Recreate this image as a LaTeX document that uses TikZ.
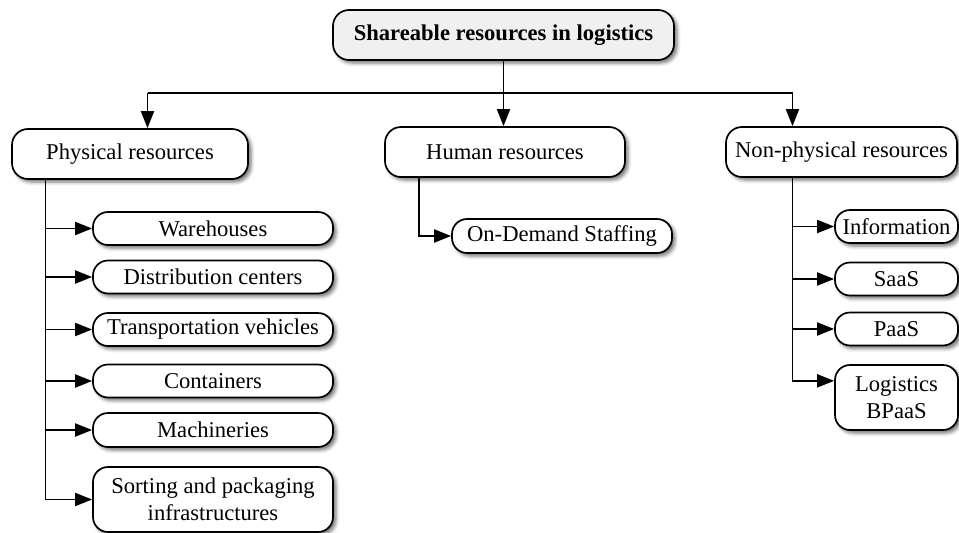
\documentclass[tikz,border=0pt]{standalone}
\usepackage{fontspec}
\setmainfont{Liberation Serif}
\usetikzlibrary{arrows.meta,shadows.blur,calc}
\begin{document}
\begin{tikzpicture}[x=1pt,y=-1pt,
  box/.style={draw=black, line width=1.7pt, fill=white, rounded corners=16pt,
    align=center, inner sep=0pt, font=\fontsize{22.6}{26.5}\selectfont,
    blur shadow={shadow xshift=3pt, shadow yshift=-3pt,
      shadow blur radius=3.5pt, shadow opacity=55}},
  rootbox/.style={box, fill=black!6, minimum height=50pt,
    font=\fontsize{22.6}{26.5}\selectfont\bfseries},
  headbox/.style={box, minimum height=50pt},
  leafbox/.style={box, rounded corners=15pt, minimum height=33pt},
  link/.style={line width=1.9pt, draw=black},
  arr/.style={link, -{Triangle[length=17pt,width=13pt]}}]
\useasboundingbox (0,0) rectangle (959,533);

% top level
\node[rootbox, minimum width=341pt] (root) at (503.5,35) {Shareable resources in logistics};

% categories
\node[headbox, minimum width=236pt] (phys)    at (130,154)   {Physical resources};
\node[headbox, minimum width=240pt] (human)   at (505,152)   {Human resources};
\node[headbox, minimum width=231pt] (nonphys) at (841.5,152) {Non-physical resources};

% physical resources
\node[leafbox, minimum width=240pt] (wh) at (213,228.5) {Warehouses};
\node[leafbox, minimum width=240pt] (dc) at (213,277)   {Distribution centers};
\node[leafbox, minimum width=240pt] (tv) at (213,329.5) {Transportation vehicles};
\node[leafbox, minimum width=240pt] (ct) at (213,381)   {Containers};
\node[leafbox, minimum width=240pt, minimum height=34pt] (mc) at (213,430) {Machineries};
\node[leafbox, minimum width=240pt, minimum height=65pt] (sp) at (213,499.5) {Sorting and packaging\\infrastructures};

% human resources
\node[leafbox, minimum width=220pt, minimum height=34pt] (od) at (562,236) {On-Demand Staffing};

% non-physical resources
\node[leafbox, minimum width=123pt] (info)  at (896.5,226.5) {Information};
\node[leafbox, minimum width=123pt] (saas)  at (896.5,279)   {SaaS};
\node[leafbox, minimum width=123pt] (paas)  at (896.5,329)   {PaaS};
\node[leafbox, minimum width=123pt, minimum height=65pt] (bpaas) at (896.5,397.5) {Logistics\\BPaaS};

% distribution bar under the root
\coordinate (pl) at (147.5,93);
\coordinate (pr) at (792.5,93);
\draw[arr] (root.south) -- (root.south |- human.north);
\draw[link] (pl) -- (pr);
\draw[arr] (pl) -- (pl |- phys.north);
\draw[arr] (pr) -- (pr |- nonphys.north);

% physical trunk
\coordinate (ptrunk) at (45.5,0);
\draw[arr] (phys.south -| ptrunk) -- (ptrunk |- sp.west) -- (sp.west);
\foreach \n in {wh,dc,tv,ct,mc}
  \draw[arr] (ptrunk |- \n.west) -- (\n.west);

% human trunk
\coordinate (htrunk) at (419,0);
\draw[arr] (human.south -| htrunk) -- (htrunk |- od.west) -- (od.west);

% non-physical trunk
\coordinate (ntrunk) at (792.5,0);
\coordinate (bpin) at ($(bpaas.north west)!0.25!(bpaas.south west)$);
\draw[arr] (nonphys.south -| ntrunk) -- (ntrunk |- bpin) -- (bpin);
\foreach \n in {info,saas,paas}
  \draw[arr] (ntrunk |- \n.west) -- (\n.west);
\end{tikzpicture}
\end{document}
